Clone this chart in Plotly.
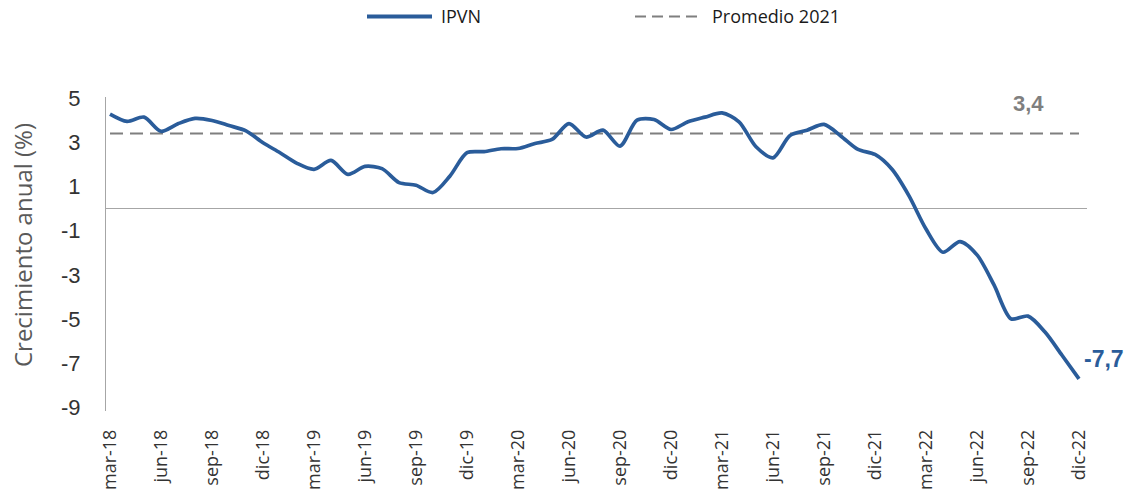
import plotly.graph_objects as go

months = [
    "mar-18", "abr-18", "may-18", "jun-18", "jul-18", "ago-18", "sep-18", "oct-18", "nov-18", "dic-18",
    "ene-19", "feb-19", "mar-19", "abr-19", "may-19", "jun-19", "jul-19", "ago-19", "sep-19", "oct-19", "nov-19", "dic-19",
    "ene-20", "feb-20", "mar-20", "abr-20", "may-20", "jun-20", "jul-20", "ago-20", "sep-20", "oct-20", "nov-20", "dic-20",
    "ene-21", "feb-21", "mar-21", "abr-21", "may-21", "jun-21", "jul-21", "ago-21", "sep-21", "oct-21", "nov-21", "dic-21",
    "ene-22", "feb-22", "mar-22", "abr-22", "may-22", "jun-22", "jul-22", "ago-22", "sep-22", "oct-22", "nov-22", "dic-22",
]
ipvn = [
    4.28, 3.95, 4.14, 3.50, 3.84, 4.08, 3.99, 3.76, 3.52, 2.98,
    2.53, 2.05, 1.78, 2.18, 1.55, 1.91, 1.81, 1.18, 1.06, 0.73, 1.48, 2.53,
    2.58, 2.71, 2.72, 2.95, 3.13, 3.85, 3.24, 3.55, 2.83, 4.00, 4.03, 3.58,
    3.93, 4.14, 4.33, 3.93, 2.80, 2.30, 3.31, 3.55, 3.81, 3.28, 2.68, 2.45,
    1.78, 0.58, -0.92, -1.97, -1.49, -2.09, -3.45, -4.98, -4.86, -5.58, -6.63, -7.70,
]
promedio_2021 = 3.4
tick_labels = months[::3]
y_ticks = [5, 3, 1, -1, -3, -5, -7, -9]

x_idx = list(range(len(months)))
BLUE = "#2A5C9A"
GRAY = "#7F7F7F"

fig = go.Figure()
fig.add_trace(go.Scatter(
    x=x_idx, y=[promedio_2021] * len(months), name="Promedio 2021", mode="lines",
    line=dict(color=GRAY, width=2, dash="13px,7px"), hoverinfo="skip",
))
fig.add_trace(go.Scatter(
    x=x_idx, y=ipvn, name="IPVN", mode="lines",
    line=dict(color=BLUE, width=3.7, shape="spline", smoothing=0.8),
))

fig.update_layout(
    width=1126, height=502,
    margin=dict(l=106, r=39, t=97, b=89),
    plot_bgcolor="white", paper_bgcolor="white",
    showlegend=False,
    xaxis=dict(
        range=[-0.235, 57.47], tickmode="array",
        tickvals=x_idx[::3], ticktext=tick_labels,
        tickangle=-90, showgrid=False, showline=False, zeroline=False,
        ticks="", ticklabelstandoff=14,
        tickfont=dict(family="Open Sans", size=18, color="#333333"),
    ),
    yaxis=dict(
        range=[-9.15, 5.05], tickmode="array", tickvals=y_ticks,
        ticktext=[str(v) for v in y_ticks],
        showgrid=False, showline=True, linecolor="#A6A6A6", linewidth=1.2,
        zeroline=True, zerolinecolor="#A6A6A6", zerolinewidth=1.2,
        ticks="", ticklabelstandoff=20,
        tickfont=dict(family="Liberation Sans", size=22, color="#333333"),
    ),
)

# y-axis title
fig.add_annotation(
    text="Crecimiento anual (%)", textangle=-90, xref="paper", yref="paper",
    x=(22 - 106) / 981, y=(412.6 - 246) / 315.2, xanchor="center", yanchor="middle",
    showarrow=False, font=dict(family="Open Sans", size=24, color="#595959"),
)

# value labels
fig.add_annotation(
    x=54, y=promedio_2021, text="<b>3,4</b>", showarrow=False, yshift=30,
    font=dict(family="Liberation Sans", size=22, color=GRAY),
)
fig.add_annotation(
    x=x_idx[-1], y=ipvn[-1], text="<b>-7,7</b>", showarrow=False,
    xanchor="left", xshift=3, yshift=20,
    font=dict(family="Liberation Sans", size=23, color=BLUE),
)

# manual legend (top)
def px_x(px):
    return (px - 106) / 981

def px_y(py):
    return (412.6 - py) / 315.2

fig.add_shape(type="line", xref="paper", yref="paper",
              x0=px_x(367), x1=px_x(432), y0=px_y(16.5), y1=px_y(16.5),
              line=dict(color=BLUE, width=4))
fig.add_annotation(text="IPVN", xref="paper", yref="paper", x=px_x(439), y=px_y(16.5),
                   xanchor="left", yanchor="middle", showarrow=False,
                   font=dict(family="Open Sans", size=18, color="#1A1A1A"))
fig.add_shape(type="line", xref="paper", yref="paper",
              x0=px_x(635), x1=px_x(700), y0=px_y(16.5), y1=px_y(16.5),
              line=dict(color=GRAY, width=2, dash="11px,6px"))
fig.add_annotation(text="Promedio 2021", xref="paper", yref="paper", x=px_x(710), y=px_y(16.5),
                   xanchor="left", yanchor="middle", showarrow=False,
                   font=dict(family="Open Sans", size=18, color="#1A1A1A"))

fig.write_html(
    "out.html",
    config={"displayModeBar": False},
    post_script="document.body.style.margin='0';document.body.style.padding='0';",
)
